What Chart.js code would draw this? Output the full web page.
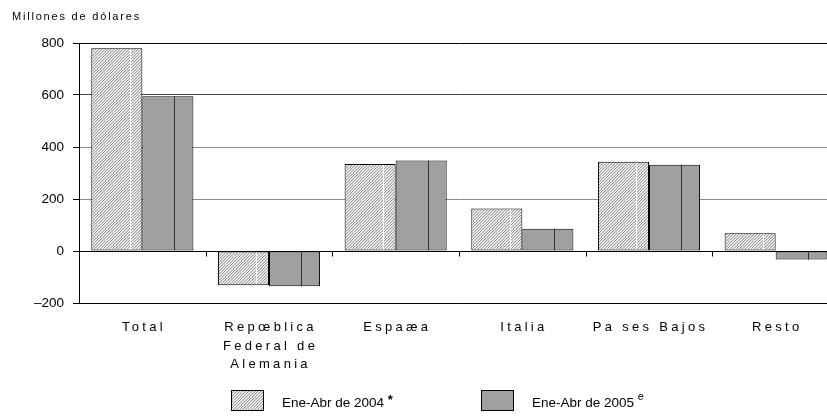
<!DOCTYPE html>
<html>
<head>
<meta charset="utf-8">
<script src="https://cdn.jsdelivr.net/npm/chart.js@4"></script>
<style>
  html, body { margin: 0; padding: 0; background: #fff; overflow: hidden; }
  #wrap { width: 827px; height: 416px; overflow: hidden; position: relative; }
</style>
</head>
<body>
<div id="wrap"><canvas id="chart" width="839" height="416"></canvas></div>
<script>
  // datos (millones de dolares)
  const categorias = [
    ["Total"],
    ["Repœblica", "Federal de", "Alemania"],
    ["Espaæa"],
    ["Italia"],
    ["Pa ses Bajos"],
    ["Resto"],
  ];
  const serie2004 = [780, -132, 335, 163, 343, 68];
  const serie2005 = [595, -136, 348, 86, 332, -33];
  const ticksY = [-200, 0, 200, 400, 600, 800];
  const titulo = "Millones de dólares";
  const leyenda = [
    { texto: "Ene-Abr de 2004", sup: "*" },
    { texto: "Ene-Abr de 2005", sup: "e" },
  ];

  const FONT = "'Liberation Sans', Arial, sans-serif";

  // tramas
  function tramaRayada() {
    const c = document.createElement("canvas");
    c.width = 3; c.height = 3;
    const x = c.getContext("2d");
    const tonos = ["#9c9c9c", "#d2d2d2", "#ffffff"];
    for (let i = 0; i < 3; i++) {
      for (let j = 0; j < 3; j++) {
        x.fillStyle = tonos[(i + j) % 3];
        x.fillRect(i, j, 1, 1);
      }
    }
    return x.createPattern(c, "repeat");
  }
  function tramaGris() {
    const c = document.createElement("canvas");
    c.width = 2; c.height = 2;
    const x = c.getContext("2d");
    x.fillStyle = "#979797";
    x.fillRect(0, 0, 2, 2);
    x.fillStyle = "#a8a8a8";
    x.fillRect(0, 0, 1, 1);
    x.fillRect(1, 1, 1, 1);
    return x.createPattern(c, "repeat");
  }
  const pat2004 = tramaRayada();
  const pat2005 = tramaGris();

  const extras = {
    id: "extras",
    afterDatasetsDraw(chart) {
      const ctx = chart.ctx;
      const y = chart.scales.y;
      const xs = chart.scales.x;
      const y0 = Math.round(y.getPixelForValue(0)) + 0.5;
      ctx.save();
      // costura vertical dentro de las barras
      chart.getDatasetMeta(0).data.forEach((b) => {
        const left = b.x - b.width / 2;
        const xx = Math.round(left + b.width * 0.75) + 0.5;
        ctx.strokeStyle = "#fff";
        ctx.lineWidth = 1;
        ctx.beginPath();
        ctx.moveTo(xx, Math.min(b.y, b.base) + 1);
        ctx.lineTo(xx, Math.max(b.y, b.base) - 1);
        ctx.stroke();
      });
      chart.getDatasetMeta(1).data.forEach((b) => {
        const left = b.x - b.width / 2;
        const xx = Math.round(left + b.width * 0.63) + 0.5;
        ctx.strokeStyle = "#333";
        ctx.lineWidth = 1;
        ctx.beginPath();
        ctx.moveTo(xx, Math.min(b.y, b.base));
        ctx.lineTo(xx, Math.max(b.y, b.base));
        ctx.stroke();
      });
      // linea del cero y marcas de categoria
      ctx.strokeStyle = "#000";
      ctx.beginPath();
      ctx.moveTo(chart.chartArea.left, y0);
      ctx.lineTo(chart.chartArea.right, y0);
      for (let i = 0; i < categorias.length - 1; i++) {
        const xm = Math.round((xs.getPixelForValue(i) + xs.getPixelForValue(i + 1)) / 2) + 0.5;
        ctx.moveTo(xm, y0);
        ctx.lineTo(xm, y0 + 5);
      }
      ctx.stroke();
      ctx.restore();
    },
    afterDraw(chart) {
      const ctx = chart.ctx;
      const xs = chart.scales.x;
      ctx.save();
      ctx.fillStyle = "#000";
      // titulo
      ctx.font = "11px " + FONT;
      ctx.letterSpacing = "1.8px";
      ctx.textAlign = "left";
      ctx.textBaseline = "alphabetic";
      ctx.fillText(titulo, 12, 20);
      // etiquetas de categoria
      ctx.font = "13px " + FONT;
      ctx.letterSpacing = "3.3px";
      ctx.textAlign = "center";
      categorias.forEach((lineas, i) => {
        const xc = xs.getPixelForValue(i) + 1.6;
        lineas.forEach((t, j) => {
          ctx.fillText(t, xc, 331 + j * 18.5);
        });
      });
      // leyenda
      ctx.letterSpacing = "0px";
      ctx.textAlign = "left";
      const pos = [231, 481];
      leyenda.forEach((l, i) => {
        const bx = pos[i];
        ctx.fillStyle = i === 0 ? pat2004 : pat2005;
        ctx.fillRect(bx, 390, 32, 20);
        ctx.strokeStyle = "#000";
        ctx.lineWidth = 1;
        ctx.strokeRect(bx + 0.5, 390.5, 32, 20);
        ctx.fillStyle = "#000";
        ctx.font = "13.5px " + FONT;
        ctx.fillText(l.texto, bx + 51, 407);
        const w = ctx.measureText(l.texto + " ").width;
        ctx.font = (i === 0 ? "bold 13px " : "11px ") + FONT;
        ctx.fillText(l.sup, bx + 51 + w, i === 0 ? 404 : 400);
      });
      ctx.restore();
    },
  };

  new Chart(document.getElementById("chart"), {
    type: "bar",
    data: {
      labels: categorias,
      datasets: [
        {
          label: leyenda[0].texto,
          data: serie2004,
          backgroundColor: pat2004,
          borderColor: "#000",
          borderWidth: 1,
          borderSkipped: false,
        },
        {
          label: leyenda[1].texto,
          data: serie2005,
          backgroundColor: pat2005,
          borderColor: "#000",
          borderWidth: 1,
          borderSkipped: false,
        },
      ],
    },
    options: {
      responsive: false,
      animation: false,
      layout: { padding: { left: 0, top: 43, right: 0, bottom: 113 } },
      datasets: { bar: { categoryPercentage: 0.806, barPercentage: 1 } },
      plugins: { legend: { display: false }, tooltip: { enabled: false } },
      scales: {
        x: {
          afterFit: (s) => { s.height = 0; },
          ticks: { display: false },
          grid: { display: false },
          border: { display: true, color: "#000", width: 1 },
        },
        y: {
          min: -200,
          max: 800,
          afterFit: (s) => { s.width = 79; },
          afterBuildTicks: (s) => { s.ticks = ticksY.map((v) => ({ value: v })); },
          ticks: {
            color: "#000",
            padding: 9,
            font: { family: FONT, size: 13.5 },
            callback: (v) => (v < 0 ? "\u2013" + Math.abs(v) : String(v)),
          },
          grid: {
            color: (c) => (c.tick && (c.tick.value === 800 || c.tick.value === -200) ? "#000" :
              c.tick && c.tick.value === 600 ? "#444" : "#8c8c8c"),
            tickColor: "#000",
            tickLength: 6,
            lineWidth: 1,
          },
          border: { display: true, color: "#000", width: 1 },
        },
      },
    },
    plugins: [extras],
  });
</script>
</body>
</html>
